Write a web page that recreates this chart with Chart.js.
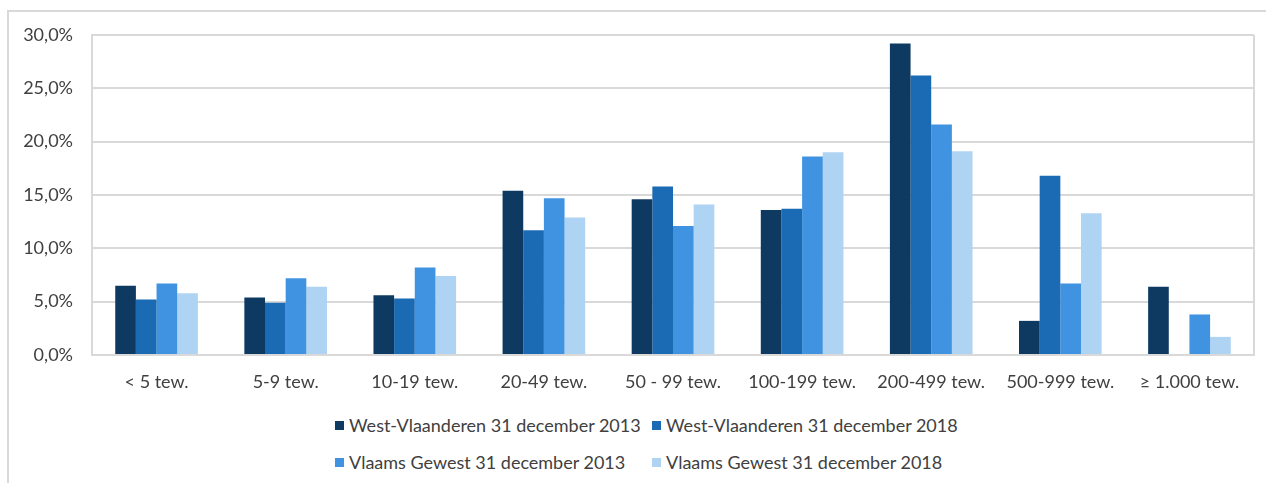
<!DOCTYPE html>
<html>
<head>
<meta charset="utf-8">
<script src="https://cdn.jsdelivr.net/npm/chart.js@4.4.1/dist/chart.umd.min.js"></script>
<style>
  body { margin: 0; background: #fff; }
  #frame { position: absolute; left: 7px; top: 10px; width: 1300px; height: 520px; border: 2px solid #d9d9d9; }
  #wrap { position: absolute; left: 0; top: 0; width: 1266px; height: 400px; }
  #legend { position: absolute; left: 335px; top: 414px; display: grid; grid-template-columns: 317px auto; row-gap: 15px;
            font-family: Lato, sans-serif; font-size: 18px; color: #404040; line-height: 22px; }
  #legend span.item { display: flex; align-items: center; white-space: nowrap; }
  #legend i { display: inline-block; width: 9px; height: 9px; margin-right: 5px; }
</style>
</head>
<body>
<div id="frame"></div>
<div id="wrap"><canvas id="ourChart"></canvas></div>
<div id="legend"></div>
<script>
let categories = ['< 5 tew.', '5-9 tew.', '10-19 tew.', '20-49 tew.', '50 - 99 tew.', '100-199 tew.', '200-499 tew.', '500-999 tew.', '≥ 1.000 tew.'];

let series_names = ['West-Vlaanderen 31 december 2013', 'West-Vlaanderen 31 december 2018', 'Vlaams Gewest 31 december 2013', 'Vlaams Gewest 31 december 2018'];

let wv_2013 = [6.5, 5.4, 5.6, 15.4, 14.6, 13.6, 29.2, 3.2, 6.4];
let wv_2018 = [5.2, 4.9, 5.3, 11.7, 15.8, 13.7, 26.2, 16.8, null];
let vg_2013 = [6.7, 7.2, 8.2, 14.7, 12.1, 18.6, 21.6, 6.7, 3.8];
let vg_2018 = [5.8, 6.4, 7.4, 12.9, 14.1, 19.0, 19.1, 13.3, 1.7];

let colors = ['#0e3a62', '#1b6ab4', '#3f93e0', '#afd3f3'];

let y_ticks = [0, 5, 10, 15, 20, 25, 30];

Chart.defaults.font.family = 'Lato, sans-serif';
Chart.defaults.font.size = 18;
Chart.defaults.color = '#404040';

// rechterrand van het plotvlak
const plotBorder = {
    id: 'plotBorder',
    beforeDatasetsDraw(chart) {
        const a = chart.chartArea;
        const ctx = chart.ctx;
        ctx.save();
        ctx.strokeStyle = '#d9d9d9';
        ctx.lineWidth = 2;
        ctx.beginPath();
        ctx.moveTo(a.right, a.top);
        ctx.lineTo(a.right, a.bottom);
        ctx.stroke();
        ctx.restore();
    }
};

let all_values = [wv_2013, wv_2018, vg_2013, vg_2018];

const chartElement = new Chart(document.getElementById('ourChart'), {
    type: 'bar',
    data: {
        labels: categories,
        datasets: all_values.map((vals, i) => ({
            label: series_names[i],
            data: vals,
            backgroundColor: colors[i],
            borderWidth: 0,
            categoryPercentage: 0.64,
            barPercentage: 1.0
        }))
    },
    options: {
        responsive: true,
        maintainAspectRatio: false,
        animation: false,
        layout: { padding: { left: 0, top: 35, right: 12, bottom: 0 } },
        plugins: {
            legend: { display: false },
            tooltip: { enabled: false }
        },
        scales: {
            x: {
                grid: { display: false, drawTicks: false },
                border: { display: true, color: '#d9d9d9', width: 2 },
                ticks: { padding: 16, maxRotation: 0, autoSkip: false },
                afterFit: (scale) => { scale.height = 45; }
            },
            y: {
                min: 0,
                max: 30,
                afterBuildTicks: (scale) => { scale.ticks = y_ticks.map(v => ({ value: v })); },
                grid: { color: '#d9d9d9', lineWidth: 2, drawTicks: false },
                border: { display: true, color: '#d9d9d9', width: 2 },
                ticks: {
                    padding: 19,
                    callback: (v) => v.toFixed(1).replace('.', ',') + '%'
                },
                afterFit: (scale) => { scale.width = 92; }
            }
        }
    },
    plugins: [plotBorder]
});

// legenda in twee kolommen
let legendDiv = document.getElementById('legend');
series_names.forEach((name, i) => {
    let item = document.createElement('span');
    item.className = 'item';
    item.innerHTML = '<i style="background:' + colors[i] + '"></i>' + name;
    legendDiv.appendChild(item);
});
</script>
</body>
</html>
